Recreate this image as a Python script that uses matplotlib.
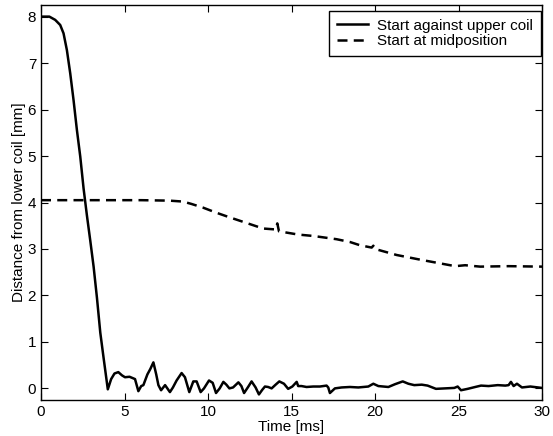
import numpy as np
import matplotlib
matplotlib.use("Agg")
import matplotlib.pyplot as plt

plt.rcParams['font.family'] = ['Liberation Sans', 'DejaVu Sans']
plt.rcParams['font.size'] = 11

# start against upper coil (solid)
t_upper = [0, 0.5, 0.85, 1.15, 1.35, 1.55, 1.75, 1.95, 2.15, 2.35,
           2.55, 2.75, 2.95, 3.15, 3.35, 3.55, 3.75, 4.0, 4.2, 4.4,
           4.63, 4.85, 5.03, 5.3, 5.5, 5.63, 5.83, 6.0, 6.13, 6.37,
           6.55, 6.73, 6.9, 7.03, 7.19, 7.43, 7.72, 7.9, 8.12, 8.42,
           8.62, 8.88, 9.12, 9.32, 9.56, 9.76, 10.06, 10.28, 10.48, 10.7,
           10.92, 11.1, 11.28, 11.5, 11.82, 12.0, 12.16, 12.4, 12.61, 12.85,
           13.05, 13.25, 13.41, 13.6, 13.81, 14.05, 14.27, 14.55, 14.8, 15.05,
           15.31, 15.4, 15.6, 15.9, 16.3, 16.7, 17.1, 17.2, 17.3, 17.6,
           18.0, 18.5, 19.0, 19.6, 19.9, 20.2, 20.8, 21.2, 21.66, 22.0,
           22.35, 22.8, 23.15, 23.65, 24.2, 24.75, 24.95, 25.15, 25.55, 26.0,
           26.35, 26.8, 27.35, 27.8, 28.0, 28.14, 28.3, 28.5, 28.8, 29.3,
           30]
y_upper = [8.0, 8.0, 7.93, 7.82, 7.64, 7.28, 6.78, 6.2, 5.56, 4.99,
           4.3, 3.72, 3.18, 2.62, 1.95, 1.2, 0.65, -0.02, 0.2, 0.32,
           0.35, 0.28, 0.24, 0.25, 0.22, 0.2, -0.06, 0.05, 0.07, 0.3,
           0.42, 0.56, 0.3, 0.07, -0.04, 0.07, -0.08, 0.02, 0.17, 0.33,
           0.24, -0.08, 0.15, 0.15, -0.08, 0.0, 0.17, 0.12, -0.1, 0.0,
           0.14, 0.08, 0.0, 0.02, 0.13, 0.05, -0.1, 0.03, 0.15, 0.02,
           -0.13, -0.03, 0.04, 0.03, 0.0, 0.08, 0.15, 0.1, -0.01, 0.04,
           0.14, 0.05, 0.05, 0.03, 0.04, 0.04, 0.06, 0.02, -0.1, 0.0,
           0.02, 0.03, 0.02, 0.04, 0.1, 0.05, 0.03, 0.09, 0.15, 0.1,
           0.07, 0.08, 0.06, -0.01, 0.0, 0.01, 0.04, -0.04, -0.01, 0.03,
           0.06, 0.05, 0.07, 0.06, 0.07, 0.14, 0.05, 0.1, 0.02, 0.04,
           0.01]

# start at midposition (dashed)
t_mid = [0, 2, 4, 6, 7.7, 8.5, 9.0, 9.7, 10.5, 11.3,
         12.3, 13.3, 14.05, 14.15, 14.25, 15.4, 16.3, 17.7, 18.5, 19.1,
         19.8, 19.9, 20.0, 21.3, 22.7, 23.9, 24.8, 25.4, 26.3, 28.0,
         30]
y_mid = [4.05, 4.05, 4.05, 4.05, 4.04, 4.02, 3.97, 3.89, 3.78, 3.68,
         3.56, 3.44, 3.42, 3.55, 3.38, 3.31, 3.28, 3.21, 3.15, 3.08,
         3.03, 3.07, 3.0, 2.87, 2.77, 2.69, 2.63, 2.65, 2.62, 2.63,
         2.62]

fig = plt.figure(figsize=(5.53, 4.36), dpi=100)
ax = fig.add_axes([41/553, 36/436, 501/553, 395/436])

ax.plot(t_upper, y_upper, color='black', lw=1.8, label='Start against upper coil')
ax.plot(t_mid, y_mid, color='black', lw=1.8, linestyle=(0, (4, 2.5)),
        label='Start at midposition')

ax.set_xlim(0, 30)
ax.set_ylim(-0.25, 8.25)
ax.set_xticks(np.arange(0, 31, 5))
ax.set_yticks(np.arange(0, 9, 1))
ax.tick_params(direction='in', top=True, right=True, length=5, width=0.8, labelsize=11)
for s in ax.spines.values():
    s.set_linewidth(1.0)

ax.set_xlabel('Time [ms]', labelpad=1)
ax.set_ylabel('Distance from lower coil [mm]', labelpad=1)

leg = ax.legend(loc='upper right', bbox_to_anchor=(0.998, 0.985), borderaxespad=0,
                fancybox=False, framealpha=1, edgecolor='black', handlelength=2.0,
                handletextpad=0.65, borderpad=0.5, labelspacing=0.1, fontsize=11)
leg.get_frame().set_linewidth(1.0)

fig.savefig('out.png', dpi=100)
